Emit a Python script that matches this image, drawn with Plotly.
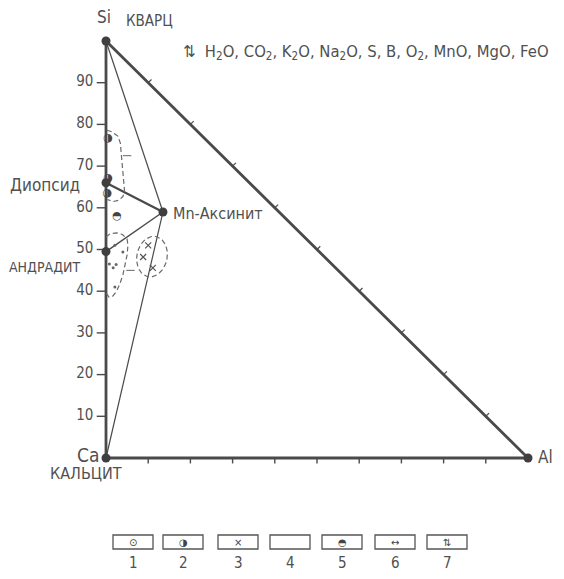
import numpy as np
import plotly.graph_objects as go

FONT = "DejaVu Sans Condensed, Liberation Sans Narrow, Roboto Condensed, sans-serif"
INK = "#4a4a4a"
TXT = "#505050"

# ---- data (x = Al share, y = Si share; Ca at origin) ----
vertex_names = ["Si", "Ca", "Al"]
vertex_x = [0, 0, 100]
vertex_y = [100, 0, 0]

mineral_names = ["Диопсид", "Андрадит", "Mn-Аксинит"]
mineral_x = [0, 0, 13.5]
mineral_y = [66, 49.5, 59]

# tie lines from Mn-axinite to: Si, Ca, Diopside, Andradite
tie_to_x = [0, 0, 0, 0]
tie_to_y = [100, 0, 66, 49.5]
tie_width = [1.2, 1.2, 2.2, 1.4]

si_ticks = [10, 20, 30, 40, 50, 60, 70, 80, 90]
si_tick_labels = ["10", "20", "30", "40", "50", "60", "70", "80", "90"]
al_ticks = [10, 20, 30, 40, 50, 60, 70, 80, 90]
edge_ticks = [10, 20, 30, 40, 50, 60, 70, 80, 90]

# sample symbols
sym1_x = [2.1, 4.0, 0.8, 1.7, 2.4, 2.1]
sym1_y = [51.0, 49.4, 46.5, 45.6, 46.4, 41.0]
sym2_x = [0.5, 0.5, 0.3]
sym2_y = [76.7, 67.0, 63.5]
sym3_x = [10.0, 8.8, 11.1]
sym3_y = [51.0, 48.2, 45.6]
sym5_x = [2.6]
sym5_y = [58.0]
sym6_x = [5.0, 5.8]
sym6_y = [72.5, 45.0]

# dashed fields
field_upper_x = [0.2, 1.2, 2.8, 3.4, 3.7, 4.0, 4.3, 4.4, 4.0, 3.0, 1.7, 0.3]
field_upper_y = [78.6, 78.3, 77.2, 75.5, 72.0, 69.0, 66.0, 64.0, 62.7, 61.8, 61.5, 62.0]
field_lower_x = [0.0, 1.0, 2.5, 3.9, 5.0, 5.2, 5.0, 4.6, 4.0, 3.3, 2.5, 1.6, 0.7, 0.0]
field_lower_y = [53.0, 53.8, 54.0, 53.6, 52.5, 51.0, 48.7, 46.5, 43.9, 41.8, 40.0, 38.8, 38.6, 39.6]
ell_cx, ell_cy, ell_a, ell_b, ell_tilt_deg = 10.9, 48.3, 3.6, 4.9, 11

legend_labels = ["1", "2", "3", "4", "5", "6", "7"]
legend_symbols = ["⊙", "◑", "×", "", "◓", "↔", "⇅"]

formula = "⇅  H<sub>2</sub>O, CO<sub>2</sub>, K<sub>2</sub>O, Na<sub>2</sub>O, S, B, O<sub>2</sub>, MnO, MgO, FeO"

# ---- figure ----
# page body has an 8px margin, so the figure is sized/offset to fit the 564x579 window
OFF = 8
W, H = 548, 563

fig = go.Figure()

def seg(x0, y0, x1, y1, w, dash="solid", color=INK):
    fig.add_trace(go.Scatter(x=[x0, x1], y=[y0, y1], mode="lines",
                             line=dict(color=color, width=w, dash=dash),
                             hoverinfo="skip", showlegend=False))

# triangle edges
tri_x = vertex_x + [vertex_x[0]]
tri_y = vertex_y + [vertex_y[0]]
fig.add_trace(go.Scatter(x=tri_x, y=tri_y, mode="lines",
                         line=dict(color=INK, width=2.8), hoverinfo="skip", showlegend=False))

# tie lines
mx, my = mineral_x[2], mineral_y[2]
for tx, ty, w in zip(tie_to_x, tie_to_y, tie_width):
    seg(mx, my, tx, ty, w)

# left axis ticks
for t in si_ticks:
    seg(-2.2, t, 0, t, 1.4)
# bottom axis ticks
for t in al_ticks:
    seg(t, 0, t, -1.3, 1.4)
# hypotenuse ticks (outward normal)
n = np.array([1, 1]) / np.sqrt(2)
for t in edge_ticks:
    px, py = t, 100 - t
    seg(px, py, px + 1.1 * n[0], py + 1.1 * n[1], 1.2)

# left tick labels
fig.add_trace(go.Scatter(x=[-3.0] * len(si_ticks), y=si_ticks, mode="text",
                         text=si_tick_labels, textposition="middle left",
                         textfont=dict(family=FONT, size=15, color=TXT),
                         hoverinfo="skip", showlegend=False))

# dashed fields
fig.add_trace(go.Scatter(x=field_upper_x, y=field_upper_y, mode="lines",
                         line=dict(color="#6a6a6a", width=1.2, dash="5px,3px"),
                         hoverinfo="skip", showlegend=False))
fig.add_trace(go.Scatter(x=field_lower_x, y=field_lower_y, mode="lines",
                         line=dict(color="#6a6a6a", width=1.2, dash="5px,3px"),
                         hoverinfo="skip", showlegend=False))
th = np.linspace(0, 2 * np.pi, 80)
tilt = np.deg2rad(ell_tilt_deg)
ex = ell_cx + ell_a * np.cos(th) * np.cos(tilt) + ell_b * np.sin(th) * np.sin(tilt)
ey = ell_cy - ell_a * np.cos(th) * np.sin(tilt) + ell_b * np.sin(th) * np.cos(tilt)
fig.add_trace(go.Scatter(x=ex, y=ey, mode="lines",
                         line=dict(color="#6a6a6a", width=1.2, dash="5px,3px"),
                         hoverinfo="skip", showlegend=False))

# symbols
fig.add_trace(go.Scatter(x=sym1_x, y=sym1_y, mode="markers",
                         marker=dict(symbol="circle", size=3, color="#666"),
                         hoverinfo="skip", showlegend=False))
fig.add_trace(go.Scatter(x=sym2_x, y=sym2_y, mode="text", text=["◑"] * len(sym2_x),
                         textfont=dict(family="DejaVu Sans", size=11, color="#444"),
                         hoverinfo="skip", showlegend=False))
fig.add_trace(go.Scatter(x=sym3_x, y=sym3_y, mode="markers",
                         marker=dict(symbol="x-thin", size=6, line=dict(width=1.2, color="#555")),
                         hoverinfo="skip", showlegend=False))
fig.add_trace(go.Scatter(x=sym5_x, y=sym5_y, mode="text", text=["◓"] * len(sym5_x),
                         textfont=dict(family="DejaVu Sans", size=11, color="#444"),
                         hoverinfo="skip", showlegend=False))
fig.add_trace(go.Scatter(x=sym6_x, y=sym6_y, mode="markers",
                         marker=dict(symbol="line-ew", size=6, line=dict(width=1, color="#666")),
                         hoverinfo="skip", showlegend=False))

# vertex + mineral dots
fig.add_trace(go.Scatter(x=vertex_x + mineral_x, y=vertex_y + mineral_y, mode="markers",
                         marker=dict(size=9, color="#3f3f3f"),
                         hoverinfo="skip", showlegend=False))

# labels
def ann(x, y, text, size, anchor="center", fam=FONT):
    fig.add_annotation(x=x, y=y, xref="x", yref="y", text=text, showarrow=False,
                       xanchor=anchor, yanchor="middle",
                       font=dict(family=fam, size=size, color=TXT))

ann(-0.4, 105.8, vertex_names[0], 17)
ann(4.3, 104.8, "КВАРЦ", 15, "left")
ann(-5.8, 65.5, mineral_names[0], 17, "right")
ann(-5.6, 45.8, mineral_names[1].upper(), 14, "right")
ann(15.4, 58.7, mineral_names[2], 16, "left")
ann(-1.3, 0.8, vertex_names[1], 19, "right")
ann(-4.8, -3.6, "КАЛЬЦИТ", 16)
ann(101.8, 0.2, vertex_names[2], 17, "left")
ann(17.8, 97.3, formula, 16.5, "left")

# legend boxes (screen pixel layout -> paper coords)
box_left = [113, 163, 218, 270, 322, 375, 427]
box_w, box_top, box_h, num_y = 40, 535, 14, 563
for i, (lab, sym) in enumerate(zip(legend_labels, legend_symbols)):
    x0 = box_left[i] - OFF
    top = box_top - OFF
    fig.add_shape(type="rect", xref="paper", yref="paper",
                  x0=x0 / W, x1=(x0 + box_w) / W,
                  y0=1 - (top + box_h) / H, y1=1 - top / H,
                  line=dict(color="#555", width=1.3), fillcolor="rgba(0,0,0,0)")
    if sym:
        fig.add_annotation(x=(x0 + box_w / 2) / W, y=1 - (top + box_h / 2) / H,
                           xref="paper", yref="paper", text=sym, showarrow=False,
                           xanchor="center", yanchor="middle",
                           font=dict(family="DejaVu Sans", size=10, color="#444"))
    fig.add_annotation(x=(x0 + box_w / 2) / W, y=1 - (num_y - OFF) / H,
                       xref="paper", yref="paper", text=lab, showarrow=False,
                       xanchor="center", yanchor="middle",
                       font=dict(family=FONT, size=15, color=TXT))

# data->pixel mapping: x 0..100 -> screen 106..528, y 0..100 -> screen 458..41
sx = (528 - 106) / 100
sy = (458 - 41) / 100
x_lo = -(106 - OFF) / sx
y_hi = 100 + (41 - OFF) / sy

fig.update_layout(
    width=W, height=H,
    margin=dict(l=0, r=0, t=0, b=0),
    paper_bgcolor="white", plot_bgcolor="white",
    xaxis=dict(range=[x_lo, x_lo + W / sx], visible=False, fixedrange=True),
    yaxis=dict(range=[y_hi - H / sy, y_hi], visible=False, fixedrange=True),
    showlegend=False,
)

fig.write_html("out.html")
